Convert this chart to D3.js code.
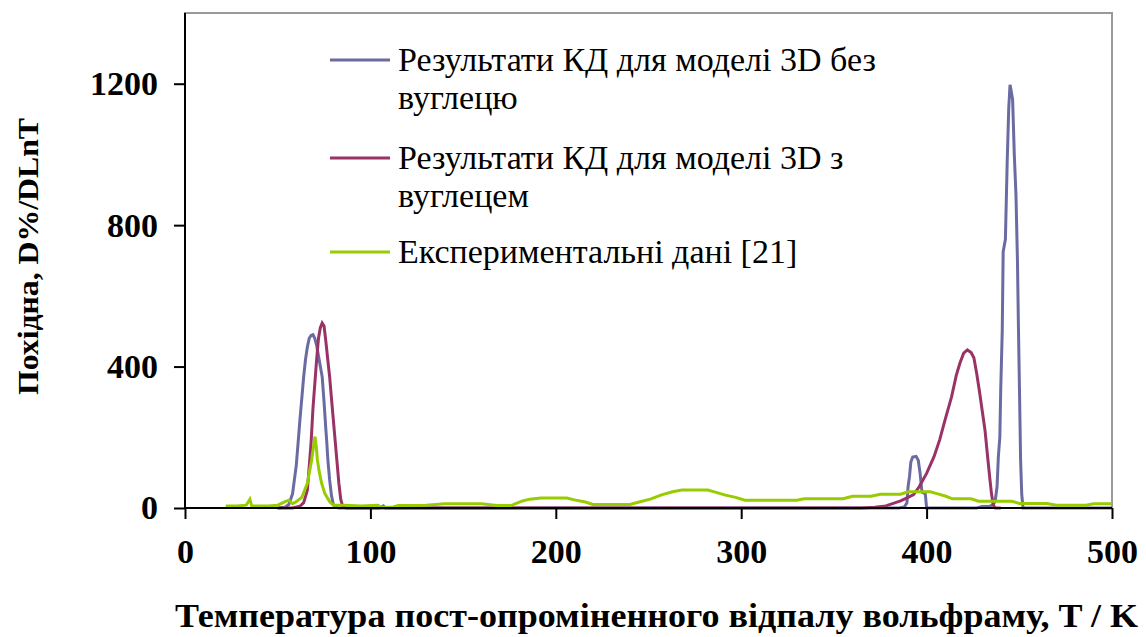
<!DOCTYPE html>
<html><head><meta charset="utf-8">
<script src="https://cdn.jsdelivr.net/npm/d3@7"></script>
<style>body{margin:0;background:#fff}svg{display:block}</style>
</head><body>
<svg id="c" width="1146" height="637"></svg>
<script>
const seriesNames = ["Результати КД для моделі 3D без вуглецю", "Результати КД для моделі 3D з вуглецем", "Експериментальні дані [21]"];
const legendLines = [["Результати КД для моделі 3D без", "вуглецю"], ["Результати КД для моделі 3D з", "вуглецем"], ["Експериментальні дані [21]"]];
const seriesColors = ["#6B6BA3", "#993366", "#99CC00"];
const xTicks = [0, 100, 200, 300, 400, 500];
const yTicks = [0, 400, 800, 1200];
const xTitle = "Температура пост-опроміненного відпалу вольфраму, T / K";
const yTitle = "Похідна, D%/DLnT";

// [T, value]
const noCarbon = [[50,0],[54,2],[56,10],[58,40],[60,120],[61,184],[62,250],[63,310],[64,371],[65,420],[66,455],[67,480],[68,488],[69,490],[70,480],[71,460],[72,430],[73,400],[74,371],[75,300],[76,220],[76.5,184],[77,140],[78,80],[79,35],[80,10],[81,3],[83,0],[105,0],[107,6],[108,0],[385,0],[388,3],[389.4,15],[390,60],[390.8,90],[391.5,130],[392.5,144],[394.3,146],[395.5,135],[396.5,98],[397.5,45],[399.3,40],[400,0],[427,0],[430,4],[434,5],[436,10],[437,20],[438,60],[438.7,145],[439.5,200],[440,340],[440.8,500],[441.3,725],[442.5,760],[443.5,985],[444.3,1130],[445,1197],[445.6,1180],[446.4,1155],[447.3,1000],[448.2,886],[449,700],[449.5,523],[450.2,300],[450.7,136],[451.3,40],[452,0],[500,0]];
const withCarbon = [[50,0],[58,0],[62,5],[64,15],[66,50],[68,184],[69,280],[70,350],[71,420],[72,480],[73,510],[74,523],[75,515],[76,470],[77,420],[78,372],[79,310],[80,250],[81,190],[82,130],[83,70],[84,25],[85,5],[87,0],[365,0],[372,2],[378,6],[382,13],[386,20],[390,30],[393,38],[396,60],[400,98],[404,145],[407,192],[410,250],[413.5,315],[416,375],[418,410],[420,438],[422,447],[424,440],[425.5,425],[427,381],[428.5,330],[430,275],[431.5,220],[433,140],[434.2,79],[435,40],[436,8],[437,0],[440,0]];
const experiment = [[22,6],[28,6],[33,8],[35,25],[36,6],[45,6],[50,8],[54,18],[56,22],[58,12],[60,18],[63,30],[66,70],[68.3,136],[69.5,180],[70.1,202],[70.8,175],[71.4,136],[72.5,100],[73.7,70],[75.5,40],[78,18],[80,8],[86,8],[95,6],[104,8],[106,2],[112,2],[115,7],[130,8],[140,12],[160,12],[168,7],[176,7],[178,12],[182,20],[186,25],[192,28],[206,28],[210,23],[216,17],[220,10],[240,10],[245,17],[251,25],[257,37],[263,46],[268,51],[282,51],[286,45],[291,37],[297,30],[302,22],[330,22],[334,26],[355,26],[360,33],[370,33],[375,39],[386,39],[390,46],[402,46],[406,40],[410,34],[414,26],[424,26],[428,19],[446,19],[450,13],[465,13],[470,8],[486,8],[490,12],[500,12]];
const seriesData = [noCarbon, withCarbon, experiment];

const svg = d3.select("#c");
const L = 185, R = 1112, T = 13, B = 508;
const x = d3.scaleLinear().domain([0, 500]).range([L, R]);
const y = d3.scaleLinear().domain([0, 1400]).range([B, T]);
const font = "'Liberation Serif', 'Times New Roman', serif";

// plot border
svg.append("rect").attr("x", L).attr("y", T).attr("width", R - L).attr("height", B - T)
  .attr("fill", "none").attr("stroke", "#999").attr("stroke-width", 2);

const line = d3.line().x(d => x(d[0])).y(d => y(d[1]));
svg.append("g").selectAll("path").data([0,1,2]).join("path")
  .attr("d", i => line(seriesData[i])).attr("fill", "none")
  .attr("stroke", i => seriesColors[i]).attr("stroke-width", 3).attr("stroke-linejoin", "miter");

// axes
const xAxis = svg.append("g").attr("transform", `translate(0,${B})`)
  .call(d3.axisBottom(x).tickValues(xTicks).tickSize(11).tickPadding(20).tickFormat(d3.format("d")));
const yAxis = svg.append("g").attr("transform", `translate(${L},0)`)
  .call(d3.axisLeft(y).tickValues(yTicks).tickSize(11).tickPadding(16).tickFormat(d3.format("d")));
[xAxis, yAxis].forEach(a => {
  a.select(".domain").attr("stroke", "#000").attr("stroke-width", 2);
  a.selectAll(".tick line").attr("stroke", "#000").attr("stroke-width", 2);
  a.selectAll("text").attr("font-family", font).attr("font-weight", "bold").attr("font-size", 34).attr("fill", "#000");
});
yAxis.select(".domain").attr("d", `M0,${B}V${T}`);
xAxis.select(".domain").attr("d", `M${L},0H${R}`);

// titles
svg.append("text").attr("x", 175).attr("y", 627)
  .attr("textLength", 963).attr("lengthAdjust", "spacingAndGlyphs")
  .attr("font-family", font).attr("font-weight", "bold").attr("font-size", 34).text(xTitle);
svg.append("text").attr("transform", "translate(38,395) rotate(-90)")
  .attr("textLength", 277).attr("lengthAdjust", "spacingAndGlyphs")
  .attr("font-family", font).attr("font-weight", "bold").attr("font-size", 30).text(yTitle);

// legend
const legY = [60, 158, 252];
const leg = svg.append("g");
legendLines.forEach((lines, i) => {
  leg.append("line").attr("x1", 330).attr("x2", 390).attr("y1", legY[i]).attr("y2", legY[i])
    .attr("stroke", seriesColors[i]).attr("stroke-width", 3);
  lines.forEach((t, j) => {
    leg.append("text").attr("x", 398).attr("y", legY[i] + 11 + j * 38)
      .attr("font-family", font).attr("font-size", 34).attr("fill", "#000").text(t);
  });
});
</script>
</body></html>
